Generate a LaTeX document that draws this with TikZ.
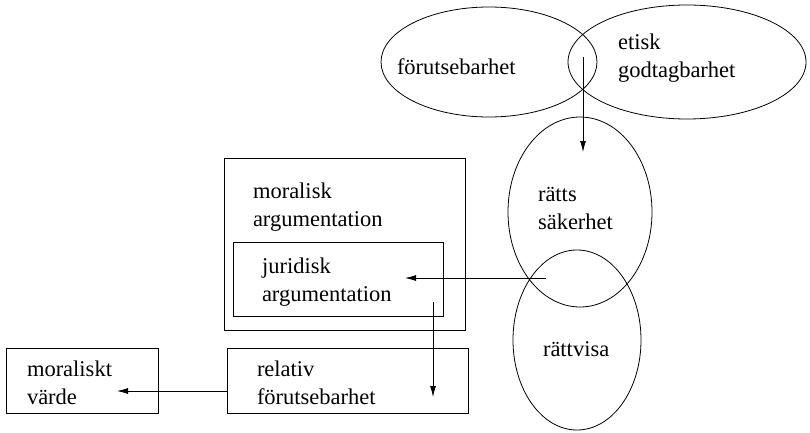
\documentclass[tikz,border=0pt]{standalone}
\usepackage{fontspec}
\setmainfont{Liberation Serif}
\usetikzlibrary{shapes.geometric,arrows.meta}
\begin{document}
\begin{tikzpicture}[x=1pt,y=-1pt,
  every node/.style={inner sep=0pt,outer sep=0pt},
  ell/.style={draw,ellipse,line width=0.8pt},
  box/.style={draw,rectangle,line width=0.8pt},
  lbl/.style={anchor=west,align=left,font=\fontsize{22.5}{28}\selectfont},
  conn/.style={line width=0.8pt,-{Latex[length=11pt,width=6pt]}}]
\useasboundingbox (0,0) rectangle (810,433);
% ellipses
\node[ell,minimum width=216pt,minimum height=110pt] (e1) at (489,62) {};
\node[ell,minimum width=238pt,minimum height=114pt] (e2) at (687,62) {};
\node[ell,minimum width=144pt,minimum height=190pt] (e3) at (580,212) {};
\node[ell,minimum width=128pt,minimum height=180pt] (e4) at (577,340) {};
% boxes
\node[box,minimum width=241pt,minimum height=172pt] (outer) at (344.5,244) {};
\node[box,minimum width=210pt,minimum height=74pt] (inner) at (338,279) {};
\node[box,minimum width=241pt,minimum height=65pt] (rel) at (347.5,380.5) {};
\node[box,minimum width=152pt,minimum height=65pt] (mv) at (82,380.5) {};
% labels
\node[lbl] (t1) at (397,67) {förutsebarhet};
\node[lbl] (t2) at (618,58.5) {etisk\\godtagbarhet};
\node[lbl] (t3) at (538,208.5) {rätts\\säkerhet};
\node[lbl] (t4) at (543,349) {rättvisa};
\node[lbl] (t5) at (253,207.5) {moralisk\\argumentation};
\node[lbl] (t6) at (262,282.5) {juridisk\\argumentation};
\node[lbl] (t7) at (257,382.5) {relativ\\förutsebarhet};
\node[lbl] (t8) at (27,382.5) {moraliskt\\värde};
% connector end points
\coordinate (lens) at (583,57);
\coordinate (e3in) at (583,152);
\coordinate (hstart) at (546,278);
\coordinate (inin) at (405,278);
\coordinate (vstart) at (433,302);
\coordinate (relin) at (433,397);
\coordinate (mvin) at (117,391);
\coordinate (relw) at (rel.west |- mvin);
% connectors
\draw[conn] (lens) -- (e3in);
\draw[conn] (hstart) -- (inin);
\draw[conn] (vstart) -- (relin);
\draw[conn] (relw) -- (mvin);
\end{tikzpicture}
\end{document}
